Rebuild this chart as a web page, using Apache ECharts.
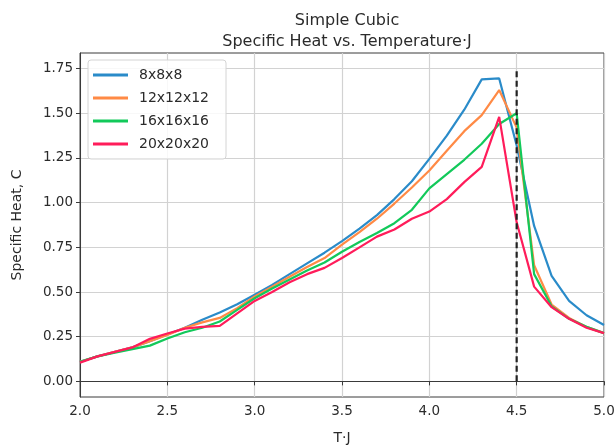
<!DOCTYPE html>
<html>
<head>
<meta charset="utf-8">
<script src="https://cdn.jsdelivr.net/npm/echarts@6/dist/echarts.min.js"></script>
<style>
  html, body { margin: 0; padding: 0; background: #fff; }
  #chart { width: 615px; height: 448px; }
</style>
</head>
<body>
<div id="chart"></div>
<script>
// Temperature grid (T·J)
const temps = [2.0, 2.1, 2.2, 2.3, 2.4, 2.5, 2.6, 2.7, 2.8, 2.9,
               3.0, 3.1, 3.2, 3.3, 3.4, 3.5, 3.6, 3.7, 3.8, 3.9,
               4.0, 4.1, 4.2, 4.3, 4.4, 4.5, 4.6, 4.7, 4.8, 4.9, 5.0];

// Specific heat per lattice size
const heat8 = [0.11, 0.14, 0.165, 0.19, 0.225, 0.262, 0.30, 0.345, 0.385, 0.432,
               0.485, 0.54, 0.60, 0.66, 0.72, 0.785, 0.855, 0.93, 1.02, 1.12,
               1.245, 1.375, 1.52, 1.69, 1.695, 1.32, 0.87, 0.59, 0.45, 0.37, 0.315];
const heat12 = [0.11, 0.14, 0.165, 0.19, 0.225, 0.26, 0.30, 0.33, 0.355, 0.41,
                0.475, 0.53, 0.585, 0.64, 0.69, 0.765, 0.835, 0.91, 0.995, 1.085,
                1.18, 1.29, 1.40, 1.49, 1.63, 1.42, 0.65, 0.43, 0.355, 0.305, 0.27];
const heat16 = [0.11, 0.14, 0.16, 0.18, 0.20, 0.24, 0.275, 0.30, 0.335, 0.40,
                0.465, 0.52, 0.57, 0.62, 0.665, 0.725, 0.78, 0.83, 0.885, 0.96,
                1.08, 1.16, 1.24, 1.33, 1.44, 1.50, 0.60, 0.42, 0.35, 0.305, 0.27];
const heat20 = [0.105, 0.14, 0.165, 0.19, 0.238, 0.268, 0.295, 0.305, 0.31, 0.38,
                0.45, 0.50, 0.555, 0.60, 0.635, 0.69, 0.75, 0.81, 0.85, 0.91,
                0.95, 1.02, 1.115, 1.20, 1.48, 0.89, 0.53, 0.415, 0.35, 0.30, 0.27];

const seriesNames = ['8x8x8', '12x12x12', '16x16x16', '20x20x20'];

// Vertical marker at the critical temperature
const criticalT = [4.5, 4.5];
const criticalSpan = [0, 1.75];

// Axis ticks
const xTicks = [2.0, 2.5, 3.0, 3.5, 4.0, 4.5, 5.0];
const yTicks = [0.00, 0.25, 0.50, 0.75, 1.00, 1.25, 1.50, 1.75];

const colors = ['#2a8bc9', '#ff8a45', '#12c95a', '#ff1c5a'];
const textColor = '#2b2b2b';
const font = 'DejaVu Sans';

const pair = (xs, ys) => xs.map((x, i) => [x, ys[i]]);

const lineSeries = [heat8, heat12, heat16, heat20].map((vals, i) => ({
  name: seriesNames[i],
  type: 'line',
  data: pair(temps, vals),
  symbol: 'none',
  smooth: false,
  lineStyle: { color: colors[i], width: 2.2 },
  itemStyle: { color: colors[i] },
  z: 3 + i
}));

lineSeries.push({
  name: 'Tc',
  type: 'line',
  data: pair(criticalT, criticalSpan),
  symbol: 'none',
  lineStyle: { color: '#222', width: 2.2, type: [6, 3.5] },
  z: 10
});

const chart = echarts.init(document.getElementById('chart'), null, { renderer: 'canvas' });
chart.setOption({
  animation: false,
  backgroundColor: '#fff',
  textStyle: { fontFamily: font, color: textColor },
  title: [
    { text: 'Simple Cubic', left: 342, top: 8, textAlign: 'center',
      textStyle: { fontFamily: font, fontSize: 16, fontWeight: 'normal', color: textColor } },
    { text: 'Specific Heat vs. Temperature·J', left: 342, top: 29, textAlign: 'center',
      textStyle: { fontFamily: font, fontSize: 16, fontWeight: 'normal', color: textColor } }
  ],
  grid: {
    left: 80, right: 11, top: 53, bottom: 51,
    outerBoundsMode: 'none', containLabel: false,
    show: true, borderColor: '#3a3a3a', borderWidth: 1, backgroundColor: 'transparent'
  },
  legend: {
    data: seriesNames,
    orient: 'vertical',
    left: 88, top: 60,
    itemWidth: 35, itemHeight: 3,
    itemGap: 9,
    icon: 'rect',
    padding: [8, 17, 8, 5],
    backgroundColor: 'rgba(255,255,255,0.85)',
    borderColor: '#d4d4d4', borderWidth: 1, borderRadius: 3,
    textStyle: { fontFamily: font, fontSize: 14, color: textColor, lineHeight: 14, padding: [0, 0, 0, 6] }
  },
  xAxis: {
    type: 'value',
    min: xTicks[0], max: xTicks[xTicks.length - 1], interval: 0.5,
    name: 'T·J', nameLocation: 'middle', nameGap: 34,
    nameTextStyle: { fontFamily: font, fontSize: 14, color: textColor },
    axisLine: { show: true, lineStyle: { color: '#3a3a3a', width: 1 } },
    axisTick: { show: true, length: 4, inside: false, lineStyle: { color: '#3a3a3a' } },
    axisLabel: { fontFamily: font, fontSize: 13.5, color: textColor, margin: 7,
                 formatter: v => v.toFixed(1) },
    splitLine: { show: true, lineStyle: { color: '#d2d2d2', width: 1.2 } }
  },
  yAxis: {
    type: 'value',
    min: -0.0875, max: 1.8375,
    splitNumber: 8, minInterval: 0.25, maxInterval: 0.25,
    name: 'Specific Heat, C', nameLocation: 'middle', nameGap: 56, nameRotate: 90,
    nameTextStyle: { fontFamily: font, fontSize: 14, color: textColor },
    axisLine: { show: true, lineStyle: { color: '#3a3a3a', width: 1 } },
    axisTick: { show: true, length: 4, inside: false, customValues: yTicks,
                lineStyle: { color: '#3a3a3a' } },
    axisLabel: { fontFamily: font, fontSize: 13.5, color: textColor, margin: 7,
                 customValues: yTicks, showMinLabel: true, showMaxLabel: true,
                 formatter: v => v.toFixed(2) },
    splitLine: { show: true, lineStyle: { color: '#d2d2d2', width: 1.2 } }
  },
  series: lineSeries
});
</script>
</body>
</html>
